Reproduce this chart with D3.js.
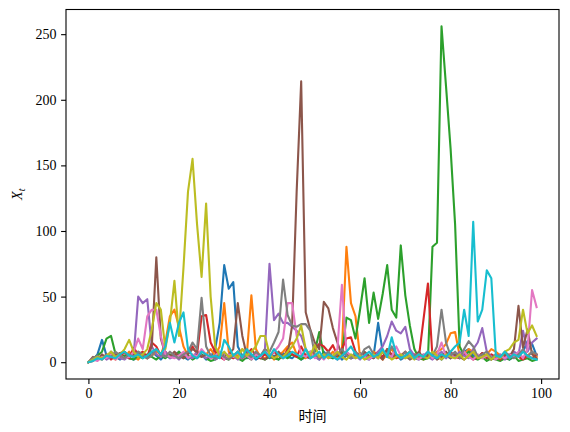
<!DOCTYPE html>
<html>
<head>
<meta charset="utf-8">
<script src="https://cdn.jsdelivr.net/npm/d3@7"></script>
<style>
  body { margin: 0; background: #fff; }
  .tick text { font-family: 'Liberation Serif', 'DejaVu Serif', serif; font-size: 14px; }
</style>
</head>
<body>
<script>
// ten simulated paths, t = 0..99
let blue   = [0,2,6,17,5,3,4,2,5,3, 2,4,6,3,8,5,2,6,3,5, 8,4,2,5,3,6,2,4,10,30, 74,56,61,12,5,3,6,2,4,8,
              3,5,2,7,4,3,6,2,4,3, 5,2,8,4,3,6,2,5,3,4, 7,3,2,5,30,8,4,3,6,2, 4,8,3,2,5,4,3,6,2,5,
              3,6,4,8,10,5,3,7,4,2, 5,3,6,2,4,6,8,16,14,5];
let orange = [0,1,3,2,5,4,2,6,3,8, 4,2,6,3,5,8,6,15,35,40, 27,12,5,3,8,4,6,10,5,12, 45,8,3,5,10,6,51,10,4,3,
              6,2,5,8,12,15,6,4,3,8, 5,3,6,4,8,4,10,88,45,35, 4,6,3,8,5,2,6,10,4,3, 5,8,3,6,2,4,5,8,10,14,
              22,23,5,6,10,8,4,3,6,10, 8,5,3,6,4,7,3,5,8,4];
let green  = [0,3,5,8,18,20,6,4,5,3, 2,5,3,6,4,2,5,3,6,4, 8,3,5,2,4,6,3,1,2,4, 3,2,5,3,1,4,2,6,3,2,
              4,3,2,5,3,6,4,2,5,8, 8,23,5,6,3,5,5,34,32,18, 40,64,30,53,33,52,74,40,34,89, 51,28,10,3,2,3,88,91,256,210,
              163,105,12,5,8,3,2,4,1,3, 2,1,3,2,5,1,2,3,1,2];
let red    = [0,2,4,3,6,2,5,4,8,3, 11,6,8,4,15,12,5,8,4,6, 3,5,8,12,6,35,36,15,8,4, 2,5,3,8,4,6,10,5,3,6,
              4,8,5,3,10,6,4,12,5,3, 10,14,12,8,13,5,10,18,19,8, 4,6,3,5,8,4,10,6,3,5, 8,4,6,4,32,60,4,6,3,5,
              8,4,3,6,5,2,4,7,3,6, 4,2,5,3,6,4,2,5,3,6];
let purple = [0,1,3,5,2,4,6,3,2,5, 5,50,45,48,12,6,4,8,3,5, 2,6,4,3,8,5,3,6,2,4, 7,3,5,2,4,8,3,6,4,10,
              75,32,37,30,30,27,24,20,10,5, 4,2,6,3,5,2,4,8,3,5, 2,6,4,3,8,12,20,31,24,22, 27,10,5,3,6,4,2,5,8,3,
              6,4,8,5,3,10,15,26,8,4, 3,6,2,5,8,6,24,8,15,18];
let brown  = [0,4,2,6,3,8,5,7,8,4, 6,8,5,3,12,80,18,6,4,8, 5,3,6,10,8,4,6,3,5,8, 4,6,10,45,20,5,3,6,4,2,
              5,3,8,4,6,28,130,214,38,25, 15,10,46,41,26,15,5,8,3,6, 4,8,5,3,6,2,10,4,6,3, 5,2,4,8,3,5,6,2,4,8,
              3,6,4,2,5,8,3,6,4,2, 5,3,6,4,10,43,11,25,6,3];
let pink   = [0,2,1,4,3,6,2,5,3,4, 8,18,10,35,40,40,20,6,4,3, 5,8,3,6,4,10,6,3,5,8, 2,6,4,8,3,5,2,6,4,10,
              5,8,12,18,45,45,20,6,4,8, 3,5,2,6,4,10,59,8,5,3, 6,4,2,5,3,8,6,4,12,5, 3,6,4,2,5,8,3,6,15,4,
              6,3,5,8,4,2,6,3,5,4, 2,5,3,6,4,8,3,10,55,42];
let grey   = [0,3,5,2,6,4,8,5,3,6, 4,8,6,3,5,10,6,4,8,5, 3,6,8,15,10,49,12,5,3,6, 4,2,5,8,3,6,4,8,5,10,
              8,15,23,63,36,28,27,29,29,24, 6,3,5,8,4,6,10,5,3,8, 4,10,12,6,3,8,5,12,6,4, 8,3,5,6,4,8,5,12,40,15,
              5,8,3,10,16,12,4,6,8,3, 6,4,8,5,3,6,10,4,8,6];
let olive  = [0,2,4,3,5,8,4,6,10,17, 8,4,6,10,25,45,40,10,30,62, 20,72,130,155,105,65,121,50,12,5, 8,4,6,3,10,5,8,12,20,20,
              6,3,5,4,8,12,18,28,10,5, 13,4,6,3,5,8,4,2,6,3, 5,2,4,6,3,8,5,2,4,6, 3,5,2,6,4,3,8,5,2,6,
              4,3,6,2,5,8,3,4,6,2, 5,3,8,10,15,17,40,22,28,20];
let cyan   = [0,1,3,2,5,4,3,6,8,5, 4,6,3,5,8,10,6,12,30,15, 30,38,10,5,3,8,6,4,5,3, 17,12,5,8,4,10,6,3,5,8,
              4,10,6,3,5,8,6,4,10,3, 5,8,3,6,4,2,5,8,12,6, 3,5,8,4,6,10,4,19,6,3, 5,8,3,6,4,8,5,3,6,4,
              8,12,15,40,20,107,31,40,70,64, 5,4,8,3,6,4,8,5,3,2];

let seriesList = [blue, orange, green, red, purple, brown, pink, grey, olive, cyan];
let colors = ['#1f77b4', '#ff7f0e', '#2ca02c', '#d62728', '#9467bd',
              '#8c564b', '#e377c2', '#7f7f7f', '#bcbd22', '#17becf'];
let xTicks = [0, 20, 40, 60, 80, 100];
let yTicks = [0, 50, 100, 150, 200, 250];

let width = 570, height = 432;
let margin = { left: 66, right: 11, top: 9.5, bottom: 53 };

let svg = d3.select('body').append('svg')
  .attr('width', width)
  .attr('height', height);

// matplotlib style 5% padding on both axes
let n = blue.length;
let xPad = (n - 1) * 0.05;
let allVals = d3.merge(seriesList);
let yMin = d3.min(allVals), yMax = d3.max(allVals);
let yPad = (yMax - yMin) * 0.05;

let x = d3.scaleLinear()
  .domain([-xPad, n - 1 + xPad])
  .range([margin.left, width - margin.right]);
let y = d3.scaleLinear()
  .domain([yMin - yPad, yMax + yPad])
  .range([height - margin.bottom, margin.top]);

let line = d3.line()
  .x(function(d, i) { return x(i); })
  .y(function(d) { return y(d); });

let plot = svg.append('g');
seriesList.forEach(function(s, k) {
  plot.append('path')
    .datum(s)
    .attr('d', line)
    .attr('fill', 'none')
    .attr('stroke', colors[k])
    .attr('stroke-width', 2.1)
    .attr('stroke-linejoin', 'round')
    .attr('stroke-linecap', 'square');
});

// frame
svg.append('rect')
  .attr('x', margin.left)
  .attr('y', margin.top)
  .attr('width', width - margin.right - margin.left)
  .attr('height', height - margin.bottom - margin.top)
  .attr('fill', 'none')
  .attr('stroke', '#000')
  .attr('stroke-width', 1.1);

let xAxis = svg.append('g')
  .attr('transform', 'translate(0,' + (height - margin.bottom) + ')')
  .call(d3.axisBottom(x).tickValues(xTicks).tickSize(4.9).tickPadding(4.5).tickFormat(d3.format('d')));
let yAxis = svg.append('g')
  .attr('transform', 'translate(' + margin.left + ',0)')
  .call(d3.axisLeft(y).tickValues(yTicks).tickSize(4.9).tickPadding(4.5).tickFormat(d3.format('d')));

[xAxis, yAxis].forEach(function(a) {
  a.select('.domain').remove();
  a.selectAll('.tick line').attr('stroke', '#000').attr('stroke-width', 1.1);
  a.selectAll('.tick text').attr('fill', '#000');
});

svg.append('text')
  .attr('x', (margin.left + width - margin.right) / 2)
  .attr('y', 421)
  .attr('text-anchor', 'middle')
  .style('font-family', "'Noto Sans CJK SC', sans-serif")
  .style('font-size', '14px')
  .text('时间');

let yLabel = svg.append('text')
  .attr('transform', 'translate(22,' + ((margin.top + height - margin.bottom) / 2) + ') rotate(-90)')
  .attr('text-anchor', 'middle')
  .style('font-family', "'Liberation Serif', 'DejaVu Serif', serif")
  .style('font-size', '14px');
yLabel.append('tspan').style('font-style', 'italic').text('X');
yLabel.append('tspan').style('font-style', 'italic').style('font-size', '10px')
  .attr('dy', 3).text('t');
</script>
</body>
</html>
